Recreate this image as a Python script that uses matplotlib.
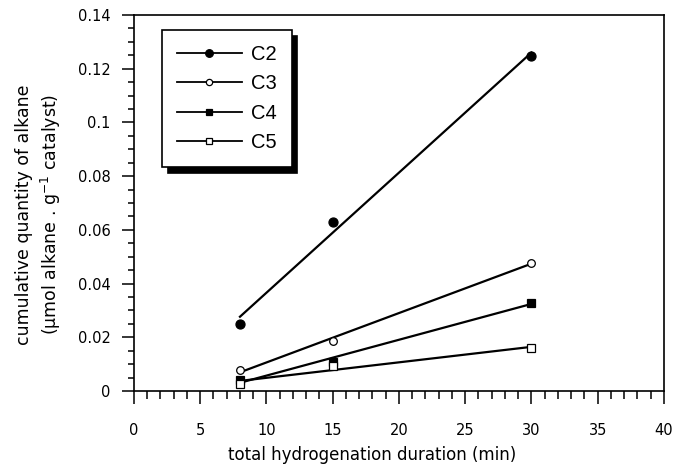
import numpy as np
import matplotlib
matplotlib.use("Agg")
import matplotlib.pyplot as plt
from matplotlib.lines import Line2D
from matplotlib.ticker import MultipleLocator, FuncFormatter

plt.rcParams['font.family'] = ['DejaVu Sans']
plt.rcParams['mathtext.fontset'] = 'dejavusans'

# durée (min) et quantités cumulées
duree = [8, 15, 30]
c2 = [0.0249, 0.0630, 0.1247]
c3 = [0.0078, 0.0186, 0.0478]
c4 = [0.0041, 0.0109, 0.0329]
c5 = [0.0026, 0.0095, 0.0159]

series = [
    ("C2", c2, "o", "black", 6.5),
    ("C3", c3, "o", "white", 5.5),
    ("C4", c4, "s", "black", 5.8),
    ("C5", c5, "s", "white", 5.5),
]

fig = plt.figure(figsize=(6.74, 4.67), dpi=100)
ax = fig.add_axes([0.1988, 0.1627, 0.7862, 0.8052])

handles = []
for nom, y, m, fc, ms in series:
    # droite de régression + points
    a, b = np.polyfit(duree, y, 1)
    xs = np.array([duree[0], duree[-1]])
    ax.plot(xs, a * xs + b, color="black", lw=1.6, zorder=2)
    ax.plot(duree, y, ls="none", marker=m, ms=ms, mfc=fc, mec="black",
            mew=0.9, zorder=3, clip_on=False)
    handles.append(Line2D([], [], color="black", lw=1.3, marker=m, ms=ms - 1,
                          mfc=fc, mec="black", mew=0.9, label=nom))

ax.set_xlim(0, 40)
ax.set_ylim(0, 0.14)
ax.xaxis.set_major_locator(MultipleLocator(5))
ax.xaxis.set_minor_locator(MultipleLocator(1))
ax.yaxis.set_major_locator(MultipleLocator(0.02))
ax.yaxis.set_minor_locator(MultipleLocator(0.005))
ax.yaxis.set_major_formatter(FuncFormatter(lambda v, p: "%g" % round(v, 3)))

ax.tick_params(which="both", direction="out", top=False, right=False,
               width=1.1, labelsize=10.5)
ax.tick_params(axis="x", which="major", length=9.5, pad=13.5)
ax.tick_params(axis="x", which="minor", length=5.5)
ax.tick_params(axis="y", which="major", length=8.5, pad=8.5)
ax.tick_params(axis="y", which="minor", length=4)
for s in ax.spines.values():
    s.set_linewidth(1.2)

ax.set_xlabel("total hydrogenation duration (min)", fontsize=12)
ax.xaxis.set_label_coords(0.449, -0.146)
ax.set_ylabel("cumulative quantity of alkane\n(µmol alkane . g$^{-1}$ catalyst)",
              fontsize=12.5, linespacing=1.3)
ax.yaxis.set_label_coords(-0.134, 0.47)

leg = ax.legend(handles=handles, loc="upper left", bbox_to_anchor=(0.053, 0.96),
                borderaxespad=0, frameon=True, fancybox=False,
                prop={'family': 'Liberation Sans', 'size': 14.5},
                edgecolor="black", handlelength=3.2, handletextpad=0.45,
                labelspacing=0.51, borderpad=0.75,
                shadow={'ox': 4, 'oy': -4, 'color': 'black', 'alpha': 1})
leg.get_frame().set_linewidth(1.2)
leg.get_frame().set_alpha(1)

fig.savefig("out.png", dpi=100)
